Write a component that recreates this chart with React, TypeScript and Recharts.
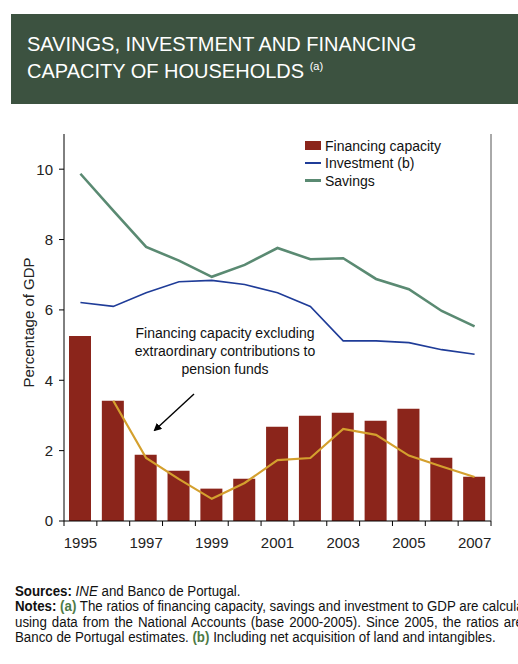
import React from "react";
import { ComposedChart, Bar, Line, XAxis, YAxis, Legend } from "recharts";

const years = ["1995","1996","1997","1998","1999","2000","2001","2002","2003","2004","2005","2006","2007"];
const financingCapacity = [5.26, 3.42, 1.88, 1.43, 0.92, 1.2, 2.68, 2.99, 3.08, 2.85, 3.19, 1.8, 1.26];
const investment = [6.21, 6.1, 6.49, 6.8, 6.84, 6.72, 6.49, 6.1, 5.12, 5.12, 5.07, 4.87, 4.74];
const savings = [9.87, 8.82, 7.79, 7.4, 6.94, 7.28, 7.76, 7.44, 7.47, 6.88, 6.59, 5.97, 5.53];
const financingExcl: (number | null)[] = [null, 3.42, 1.79, 1.19, 0.63, 1.08, 1.73, 1.79, 2.62, 2.45, 1.86, 1.55, 1.25];
const yTicks = [0, 2, 4, 6, 8, 10];

const data = years.map((y, i) => ({
  year: y,
  fc: financingCapacity[i],
  inv: investment[i],
  sav: savings[i],
  fcx: financingExcl[i],
}));

const FONT = "'Liberation Sans', Arial, sans-serif";

const CHART_W = 518;
const LEFT_W = 64;
const RIGHT_W = 27;
const BAND = (CHART_W - LEFT_W - RIGHT_W) / years.length;
const SQUEEZE = 0.95;

const YearTick = (props: any) => {
  const { x, y, payload, index } = props;
  const last = index === years.length - 1;
  return (
    <g>
      <line x1={x - BAND / 2} x2={x - BAND / 2} y1={y} y2={y + 5} stroke="#000" strokeWidth={1} />
      {last && <line x1={x + BAND / 2} x2={x + BAND / 2} y1={y} y2={y + 5} stroke="#000" strokeWidth={1} />}
      {index % 2 === 0 && (
        <text x={x} y={y + 27} textAnchor="middle" fontSize={15} fill="#222" fontFamily={FONT}>
          {payload.value}
        </text>
      )}
    </g>
  );
};

const LegendContent = (props: any) => {
  const { payload } = props;
  return (
    <div style={{ fontFamily: FONT, fontSize: 14, color: "#111" }}>
      {(payload || [])
        .filter((p: any) => p.type !== "none")
        .map((p: any) => (
          <div key={p.value} style={{ display: "flex", alignItems: "center", height: 17.5 }}>
            {p.type === "rect" ? (
              <div style={{ width: 16, height: 9, background: p.color, marginRight: 4 }} />
            ) : (
              <div style={{ width: 16, height: p.value === "Savings" ? 3 : 2, background: p.color, marginRight: 4 }} />
            )}
            <span>{p.value}</span>
          </div>
        ))}
    </div>
  );
};

export default function App() {
  return (
    <div style={{ position: "absolute", left: 0, top: 0, width: 518, height: 664, background: "#fff", overflow: "hidden", fontFamily: FONT }}>
      <div style={{ position: "absolute", left: 11, top: 14, width: 507, height: 90, background: "#3c5240", color: "#fff" }}>
        <div style={{ paddingLeft: 16, paddingTop: 17, fontSize: 20, lineHeight: "27px" }}>
          SAVINGS, INVESTMENT AND FINANCING
          <br />
          CAPACITY OF HOUSEHOLDS <span style={{ fontSize: 11, position: "relative", top: -8 }}>(a)</span>
        </div>
      </div>

      <div style={{ position: "absolute", left: 0, top: 110 }}>
        <ComposedChart width={CHART_W} height={450} data={data} margin={{ top: 24, right: 0, bottom: 0, left: 0 }}>
          <XAxis
            dataKey="year"
            height={39}
            interval={0}
            tickSize={0}
            tickMargin={0}
            tickLine={false}
            tick={<YearTick />}
            axisLine={{ stroke: "#000" }}
          />
          <YAxis
            yAxisId="left"
            width={LEFT_W}
            domain={[0, 11]}
            ticks={yTicks}
            tickSize={5}
            tickMargin={6}
            axisLine={{ stroke: "#000" }}
            tickLine={{ stroke: "#000" }}
            tick={{ fontSize: 15, fill: "#222", fontFamily: FONT }}
            label={{ value: "Percentage of GDP", angle: -90, position: "insideLeft", dx: 24, dy: 60, fontSize: 15, fill: "#222", fontFamily: FONT }}
          />
          <YAxis
            yAxisId="right"
            orientation="right"
            width={RIGHT_W}
            domain={[0, 11]}
            ticks={yTicks}
            tickSize={5}
            tickMargin={5}
            axisLine={{ stroke: "#555" }}
            tickLine={{ stroke: "#555" }}
            tick={{ fontSize: 15, fill: "#222", fontFamily: FONT, textAnchor: "start" }}
          />
          <Legend
            layout="vertical"
            align="center"
            verticalAlign="middle"
            content={<LegendContent />}
            wrapperStyle={{ left: 305, top: 27, width: 180 }}
          />
          <Bar yAxisId="left" dataKey="fc" name="Financing capacity" fill="#8b251b" barSize={22} isAnimationActive={false} legendType="rect" />
          <Line yAxisId="left" dataKey="inv" name="Investment (b)" stroke="#1f3c98" strokeWidth={1.6} dot={false} isAnimationActive={false} legendType="line" />
          <Line yAxisId="left" dataKey="sav" name="Savings" stroke="#5a8a72" strokeWidth={2.6} dot={false} isAnimationActive={false} legendType="line" />
          <Line yAxisId="left" dataKey="fcx" name="Financing capacity excluding extraordinary contributions to pension funds" stroke="#d4a02e" strokeWidth={2.2} dot={false} isAnimationActive={false} legendType="none" />
        </ComposedChart>
      </div>

      <svg style={{ position: "absolute", left: 0, top: 0 }} width={518} height={664}>
        <defs>
          <marker id="arr" markerWidth="8" markerHeight="8" refX="6" refY="4" orient="auto" markerUnits="userSpaceOnUse">
            <path d="M0,0 L8,4 L0,8 z" fill="#000" />
          </marker>
        </defs>
        <g fontFamily={FONT} fontSize={14} fill="#111" textAnchor="middle">
          <text x={225} y={338}>Financing capacity excluding</text>
          <text x={225} y={356}>extraordinary contributions to</text>
          <text x={225} y={374}>pension funds</text>
        </g>
        <line x1={194} y1={394} x2={155} y2={430} stroke="#000" strokeWidth={1.4} markerEnd="url(#arr)" />
      </svg>

      <div
        style={{
          position: "absolute",
          left: 15,
          top: 584,
          fontFamily: FONT,
          fontSize: 14,
          lineHeight: "15.3px",
          color: "#111",
          transform: `scaleX(${SQUEEZE})`,
          transformOrigin: "0 0",
        }}
      >
        <div style={{ whiteSpace: "nowrap" }}>
          <b>Sources:</b> <i>INE</i> and Banco de Portugal.
        </div>
        <div style={{ whiteSpace: "nowrap" }}>
          <b>Notes:</b> <b style={{ color: "#4d7a45" }}>(a)</b> The ratios of financing capacity, savings and investment to GDP are calculated
        </div>
        <div style={{ whiteSpace: "nowrap", width: 508 / SQUEEZE, textAlign: "justify", textAlignLast: "justify" as any }}>
          using data from the National Accounts (base 2000-2005). Since 2005, the ratios are
        </div>
        <div style={{ whiteSpace: "nowrap" }}>
          Banco de Portugal estimates. <b style={{ color: "#4d7a45" }}>(b)</b> Including net acquisition of land and intangibles.
        </div>
      </div>
    </div>
  );
}
